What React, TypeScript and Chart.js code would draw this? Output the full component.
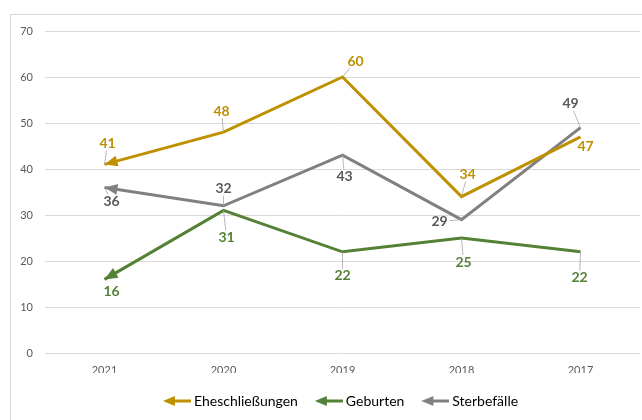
import React, { useEffect, useRef } from "react";
import { Chart, registerables } from "chart.js";

Chart.register(...registerables);

const years = ["2021", "2020", "2019", "2018", "2017"];
const eheschliessungen = [41, 48, 60, 34, 47];
const geburten = [16, 31, 22, 25, 22];
const sterbefaelle = [36, 32, 43, 29, 49];
const seriesNames = ["Eheschließungen", "Geburten", "Sterbefälle"];

const yMin = 0;
const yMax = 70;
const yStep = 10;

const GOLD = "#BF9000";
const GREEN = "#538135";
const GRAY = "#808080";
const FONT = "Lato, 'Open Sans', sans-serif";

// label placement (pixel offsets from the point) — layout only
const labelOffsets: [number, number][][] = [
  [[3, -21], [-2, -21], [13, -16], [6, -22], [5, 10]],
  [[7, 12], [3, 27], [0, 24], [2, 24], [-1, 26]],
  [[7, 14], [0, -17], [2, 21], [-22, 2], [-10, -24]],
];
const labelColors = [GOLD, GREEN, "#595959"];

function makeLegendIcon(color: string) {
  const c = document.createElement("canvas");
  c.width = 28;
  c.height = 10;
  const ctx = c.getContext("2d")!;
  ctx.strokeStyle = color;
  ctx.lineWidth = 3;
  ctx.beginPath();
  ctx.moveTo(8, 5);
  ctx.lineTo(28, 5);
  ctx.stroke();
  ctx.fillStyle = color;
  ctx.beginPath();
  ctx.moveTo(0, 5);
  ctx.lineTo(12, 0);
  ctx.lineTo(12, 10);
  ctx.closePath();
  ctx.fill();
  return c;
}

const framePlugin = {
  id: "frame",
  beforeDraw(chart: any) {
    const ctx = chart.ctx;
    ctx.save();
    ctx.fillStyle = "#fff";
    ctx.fillRect(0, 0, chart.width, chart.height);
    ctx.strokeStyle = "#D9D9D9";
    ctx.lineWidth = 1;
    ctx.strokeRect(10.5, 14.5, 800, 600);
    ctx.restore();
  },
};

const arrowPlugin = {
  id: "arrows",
  afterDatasetsDraw(chart: any) {
    const ctx = chart.ctx;
    chart.data.datasets.forEach((ds: any, i: number) => {
      const meta = chart.getDatasetMeta(i);
      const p0 = meta.data[0];
      const p1 = meta.data[1];
      const dx = p1.x - p0.x;
      const dy = p1.y - p0.y;
      const len = Math.hypot(dx, dy);
      const ux = dx / len;
      const uy = dy / len;
      const L = 13;
      const W = 5.5;
      ctx.save();
      ctx.fillStyle = ds.borderColor;
      ctx.beginPath();
      ctx.moveTo(p0.x, p0.y);
      ctx.lineTo(p0.x + ux * L - uy * W, p0.y + uy * L + ux * W);
      ctx.lineTo(p0.x + ux * L + uy * W, p0.y + uy * L - ux * W);
      ctx.closePath();
      ctx.fill();
      ctx.restore();
    });
  },
};

const labelPlugin = {
  id: "valueLabels",
  afterDatasetsDraw(chart: any) {
    const ctx = chart.ctx;
    ctx.save();
    ctx.font = `bold 14px ${FONT}`;
    ctx.textAlign = "center";
    ctx.textBaseline = "middle";
    chart.data.datasets.forEach((ds: any, i: number) => {
      const meta = chart.getDatasetMeta(i);
      meta.data.forEach((pt: any, j: number) => {
        const [ox, oy] = labelOffsets[i][j];
        const lx = pt.x + ox;
        const ly = pt.y + oy;
        const text = String(ds.data[j]);
        const hw = ctx.measureText(text).width / 2 + 2;
        const hh = 7;
        const vx = pt.x - lx;
        const vy = pt.y - ly;
        const t = Math.min(
          vx !== 0 ? hw / Math.abs(vx) : Infinity,
          vy !== 0 ? hh / Math.abs(vy) : Infinity
        );
        if (t < 1) {
          const ex = lx + vx * t;
          const ey = ly + vy * t;
          if (Math.hypot(pt.x - ex, pt.y - ey) > 7) {
            ctx.strokeStyle = "#A6A6A6";
            ctx.lineWidth = 0.8;
            ctx.beginPath();
            ctx.moveTo(pt.x, pt.y);
            ctx.lineTo(ex, ey);
            ctx.stroke();
          }
        }
        ctx.fillStyle = labelColors[i];
        ctx.fillText(text, lx, ly);
      });
    });
    ctx.restore();
  },
};

export default function App() {
  const ref = useRef<HTMLCanvasElement | null>(null);

  useEffect(() => {
    if (!ref.current) return;
    const colors = [GOLD, GREEN, GRAY];
    const values = [eheschliessungen, geburten, sterbefaelle];
    const icons = colors.map(makeLegendIcon);
    const chart = new Chart(ref.current, {
      type: "line",
      data: {
        labels: years,
        datasets: seriesNames.map((name, i) => ({
          label: name,
          data: values[i],
          borderColor: colors[i],
          backgroundColor: colors[i],
          borderWidth: 3,
          pointRadius: 0,
          tension: 0,
          fill: false,
        })),
      },
      options: {
        animation: false,
        responsive: false,
        maintainAspectRatio: false,
        layout: { padding: { top: 31, right: 2, left: 0, bottom: 2 } },
        scales: {
          x: {
            offset: true,
            grid: { display: false, drawTicks: false },
            border: { display: false },
            ticks: { color: "#595959", font: { family: FONT, size: 11 }, padding: 11 },
            afterFit(scale: any) {
              scale.height = 20;
            },
          },
          y: {
            min: yMin,
            max: yMax,
            grid: { color: "#D9D9D9", drawTicks: false, lineWidth: 1 },
            border: { display: false },
            ticks: {
              stepSize: yStep,
              color: "#595959",
              font: { family: FONT, size: 11 },
              padding: 12,
            },
            afterFit(scale: any) {
              scale.width = 45;
            },
          },
        },
        plugins: {
          legend: {
            position: "bottom",
            fullSize: false,
            labels: {
              usePointStyle: true,
              pointStyleWidth: 20,
              color: "#000",
              font: { family: FONT, size: 14 },
              padding: 21,
              generateLabels(chart: any) {
                return chart.data.datasets.map((ds: any, i: number) => ({
                  text: ds.label,
                  fillStyle: ds.borderColor,
                  strokeStyle: ds.borderColor,
                  lineWidth: 0,
                  pointStyle: icons[i],
                  hidden: false,
                  datasetIndex: i,
                  fontColor: "#000",
                }));
              },
            },
          },
          tooltip: { enabled: false },
        },
      },
      plugins: [framePlugin, arrowPlugin, labelPlugin],
    });
    return () => chart.destroy();
  }, []);

  return (
    <div style={{ position: "fixed", left: 0, top: 0, width: 642, height: 420 }}>
      <canvas ref={ref} width={642} height={420} style={{ width: 642, height: 420 }} />
    </div>
  );
}
